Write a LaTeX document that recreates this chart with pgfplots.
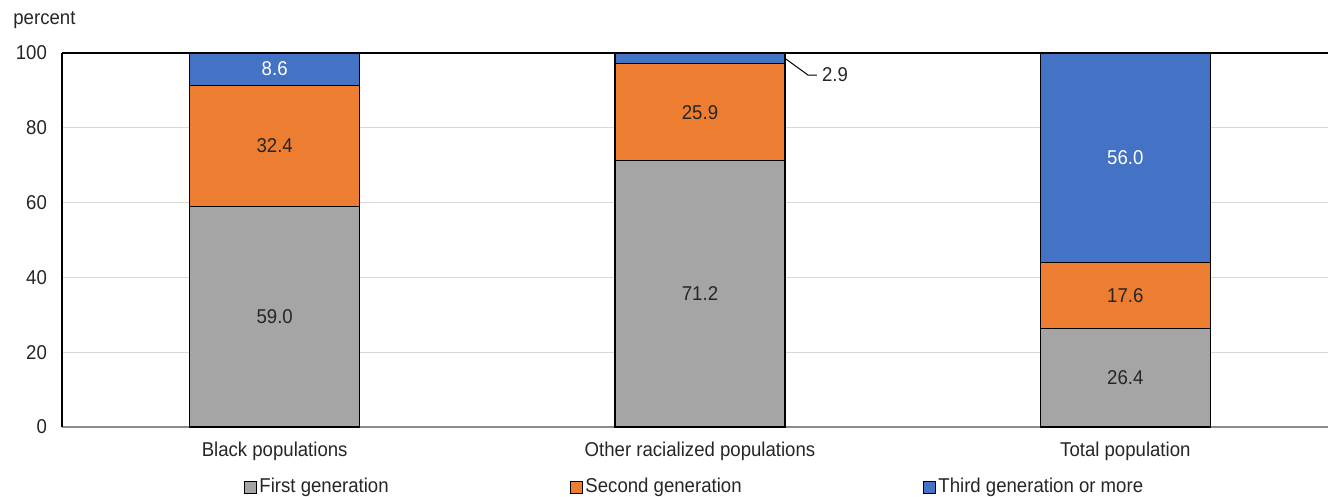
\documentclass[border=0pt]{standalone}
\usepackage{fontspec}
\setmainfont[FakeStretch=0.93]{Liberation Sans}
\usepackage{pgfplots}
\pgfplotsset{compat=1.18}
\definecolor{cgray}{HTML}{A5A5A5}
\definecolor{corange}{HTML}{ED7D31}
\definecolor{cblue}{HTML}{4472C4}
\definecolor{ctext}{HTML}{262626}
\newcommand{\cf}{\fontsize{10}{12}\selectfont}
\begin{document}
\begin{tikzpicture}
\begin{axis}[
  scale only axis, width=638pt, height=187pt,
  ybar stacked, bar width=85pt,
  xmin=-0.5, xmax=2.5, ymin=0, ymax=100,
  xtick={0,1,2},
  xticklabels={Black populations, Other racialized populations, Total population},
  ytick={0,20,40,60,80,100},
  ymajorgrids, major grid style={draw=black!15, line width=0.6pt},
  extra y ticks={100}, extra y tick labels={},
  extra y tick style={grid=major, major grid style={draw=black, line width=0.6pt}},
  major tick length=0pt,
  axis lines*=left, axis line style={-},
  y axis line style={black, line width=0.6pt},
  x axis line style={black!45, line width=0.6pt},
  /pgf/number format/assume math mode=true,
  tick label style={font=\cf, text=ctext},
  yticklabel style={xshift=-4pt},
  xticklabel style={yshift=-4pt},
  point meta=explicit symbolic,
  nodes near coords,
  every node near coord/.append style={anchor=center, font=\cf, text=ctext},
  legend image code/.code={\draw[#1, draw=black, line width=0.4pt] (0pt,-3pt) rectangle (6pt,3pt);},
  legend style={draw=none, at={(0.496,0)}, anchor=center, yshift=-30pt,
     legend columns=3, font=\cf, text=ctext,
     nodes={inner xsep=1.5pt},
     /tikz/every even column/.append style={column sep=89pt}},
  clip=false,
]
\addplot[fill=cgray, draw=black, line width=0.6pt]
  coordinates {(0,59.0) [59.0] (1,71.2) [71.2] (2,26.4) [26.4]};
\addplot[fill=corange, draw=black, line width=0.6pt]
  coordinates {(0,32.4) [32.4] (1,25.9) [25.9] (2,17.6) [17.6]};
\addplot[fill=cblue, draw=black, line width=0.6pt,
  every node near coord/.append style={text=white}]
  coordinates {(0,8.6) [8.6] (1,2.9) [] (2,56.0) [56.0]};
\legend{First generation, Second generation, Third generation or more}
\draw[black, line width=0.5pt] (axis cs:1.2,98.55) -- (axis cs:1.254,94.1) -- (axis cs:1.275,94.1);
\node[anchor=west, font=\cf, text=ctext, inner sep=0pt] at (axis cs:1.286,94.1) {2.9};
\node[anchor=west, font=\cf, text=ctext, inner sep=0pt] at (rel axis cs:0,1) [xshift=-24.5pt, yshift=16.5pt] {percent};
\end{axis}
\pgfresetboundingbox
\path[use as bounding box] (-31pt,-35pt) rectangle (633pt,213.5pt);
\end{tikzpicture}
\end{document}
